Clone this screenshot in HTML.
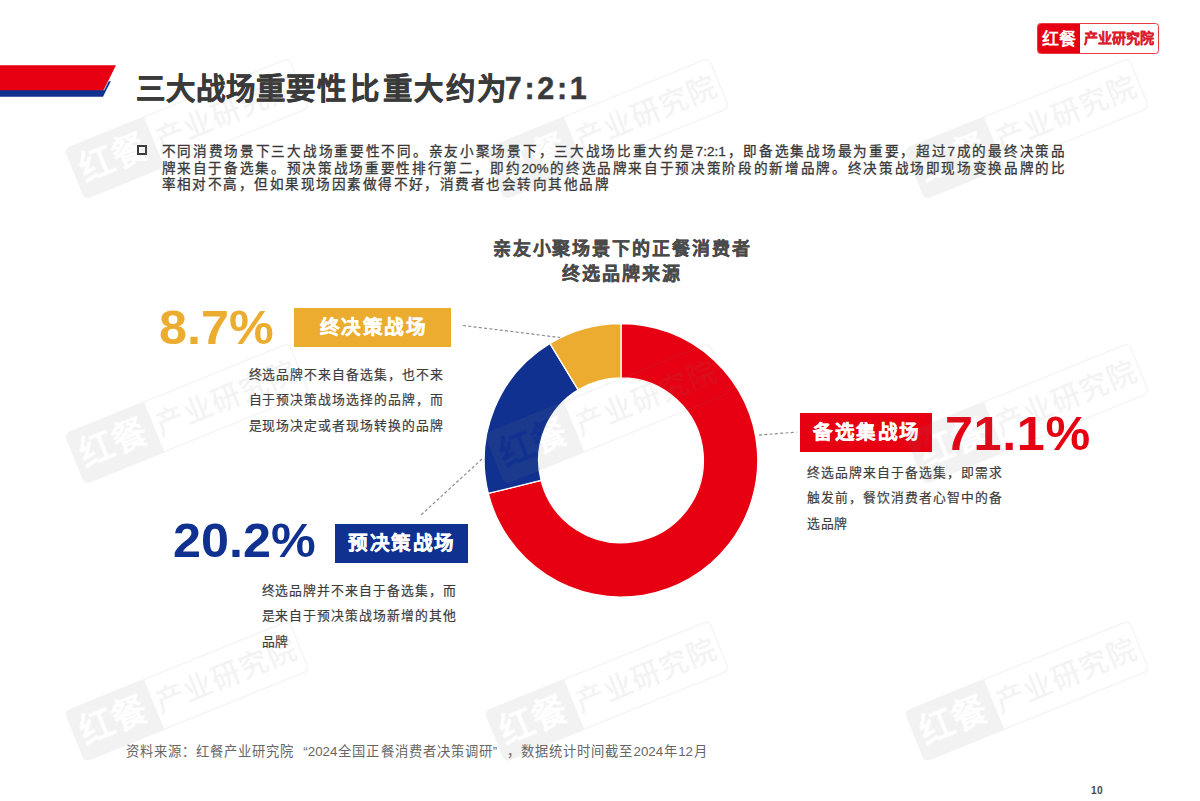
<!DOCTYPE html>
<html lang="zh-CN">
<head>
<meta charset="utf-8">
<title>三大战场重要性比重大约为7:2:1</title>
<style>
*{margin:0;padding:0;box-sizing:border-box;}
html,body{width:1200px;height:801px;background:#fff;overflow:hidden;}
body{position:relative;font-family:"Liberation Sans",sans-serif;color:#3d3d3d;}
.abs{position:absolute;white-space:nowrap;}
#hdr{position:absolute;left:0;top:0;}
#title{left:136px;top:66px;font-size:29.4px;line-height:44px;font-weight:bold;color:#3a3a3a;letter-spacing:1.1px;-webkit-text-stroke:0.45px #3a3a3a;}
#title .n{font-size:30.5px;letter-spacing:2.7px;margin-left:-3px;}
#bullet{left:136.7px;top:145.4px;width:10px;height:10px;border:2px solid #3a3a3a;}
.body{left:161.5px;width:903.5px;font-size:13.6px;line-height:17px;color:#383838;white-space:nowrap;-webkit-text-stroke:0.3px #383838;}
.just{text-align:justify;text-align-last:justify;}
#ctitle{left:422.3px;width:400px;top:237.2px;text-align:center;font-size:18px;line-height:25px;font-weight:bold;color:#4a4a4a;letter-spacing:1.95px;-webkit-text-stroke:0.3px #4a4a4a;}
.pct{font-weight:bold;font-size:48px;line-height:48px;transform-origin:0 0;transform:scaleX(1.048);}
.tag{color:#fff;font-weight:bold;font-size:19.5px;text-align:center;height:39px;line-height:38px;letter-spacing:1.5px;text-indent:1.5px;-webkit-text-stroke:0.35px #fff;}
.desc{font-size:12.8px;line-height:25.5px;color:#3c3c3c;width:194.5px;white-space:nowrap;-webkit-text-stroke:0.2px #3c3c3c;}
.desc div{text-align:justify;text-align-last:justify;}
.desc div.l{text-align-last:left;letter-spacing:0.7px;}
#foot{left:126px;top:744.3px;width:581px;font-size:13.3px;line-height:16px;color:#666;text-align:justify;text-align-last:justify;}
#foot i{font-style:normal;display:inline-block;width:1em;}
#pg{left:1091px;top:785.6px;font-size:10.2px;line-height:10px;color:#4a4a4a;font-weight:bold;letter-spacing:0.3px;}
#logo{left:1037px;top:23px;width:122px;height:31px;border:1px solid #e73a45;border-radius:3.5px;overflow:hidden;background:#fff;}
#logo .a{position:absolute;left:-1px;top:-1px;width:43px;height:31px;background:#e60012;color:#fff;font-weight:bold;font-size:17px;line-height:33.6px;text-align:center;}
#logo .b{position:absolute;left:43.5px;top:-1px;width:75px;height:31px;color:#dc1c2c;font-weight:bold;font-size:14px;line-height:31.4px;text-align:center;letter-spacing:0.2px;-webkit-text-stroke:0.3px #dc1c2c;}
</style>
</head>
<body>
<svg id="hdr" width="1200" height="801" viewBox="0 0 1200 801">
  <polygon points="0,81.2 110.8,81.2 103,96.7 0,96.7" fill="#10318f"/>
  <polygon points="0,65.3 116,65.3 103.6,90.2 0,90.2" fill="#e60012"/>
  <line x1="108.5" y1="81" x2="103.8" y2="90.4" stroke="#fff" stroke-width="0.7"/>
</svg>
<div class="abs" id="title">三大战场重要性<span style="margin-left:3.5px">比</span><span style="margin-left:3px;letter-spacing:2.1px">重大约为</span><span class="n">7:2:1</span></div>

<div class="abs" id="bullet"></div>
<div class="abs body just" style="top:142.6px;">不同消费场景下三大战场重要性不同。亲友小聚场景下，三大战场比重大约是7:2:1，即备选集战场最为重要，超过7成的最终决策品</div>
<div class="abs body just" style="top:159.7px;">牌来自于备选集。预决策战场重要性排行第二，即约20%的终选品牌来自于预决策阶段的新增品牌。终决策战场即现场变换品牌的比</div>
<div class="abs body" style="top:176.1px;letter-spacing:1.47px;">率相对不高，但如果现场因素做得不好，消费者也会转向其他品牌</div>

<div class="abs" id="ctitle">亲友小聚场景下的正餐消费者<br>终选品牌来源</div>

<!-- donut chart -->
<svg class="abs" id="donut" style="left:0;top:0;" width="1200" height="801" viewBox="0 0 1200 801">
  <g id="segs" stroke="#fff" stroke-width="1.3" stroke-linejoin="round">
    <path d="M621.00,323.50A136.8,136.8 0 1 1 488.29,493.49L541.06,480.29A82.4,82.4 0 1 0 621.00,377.90Z" fill="#e60012"/>
    <path d="M488.29,493.49A136.8,136.8 0 0 1 549.89,343.43L578.17,389.91A82.4,82.4 0 0 0 541.06,480.29Z" fill="#10318f"/>
    <path d="M549.89,343.43A136.8,136.8 0 0 1 621.00,323.50L621.00,377.90A82.4,82.4 0 0 0 578.17,389.91Z" fill="#ecac30"/>
  </g>
  <g fill="none" stroke="#8c8c8c" stroke-width="1.2" stroke-dasharray="3 2.3">
    <line x1="463" y1="325.5" x2="560" y2="337.5"/>
    <line x1="482" y1="459" x2="421" y2="515"/>
    <line x1="759" y1="435.1" x2="796.5" y2="432.1"/>
  </g>
</svg>

<!-- yellow: final decision -->
<div class="abs pct" style="left:159px;top:304.3px;color:#ecac30;">8.7%</div>
<div class="abs tag" style="left:294px;top:307.5px;width:157px;background:#ecac30;">终决策战场</div>
<div class="abs desc" style="left:248.5px;top:361.5px;">
  <div>终选品牌不来自备选集，也不来</div>
  <div>自于预决策战场选择的品牌，而</div>
  <div>是现场决定或者现场转换的品牌</div>
</div>

<!-- blue: pre decision -->
<div class="abs pct" style="left:173px;top:517.4px;color:#10318f;">20.2%</div>
<div class="abs tag" style="left:334.5px;top:524px;width:133.5px;background:#10318f;">预决策战场</div>
<div class="abs desc" style="left:261.5px;top:577.5px;">
  <div>终选品牌并不来自于备选集，而</div>
  <div>是来自于预决策战场新增的其他</div>
  <div class="l">品牌</div>
</div>

<!-- red: consideration set -->
<div class="abs tag" style="left:800px;top:413px;width:132px;background:#e60012;">备选集战场</div>
<div class="abs pct" style="left:944.5px;top:409.5px;color:#e60012;letter-spacing:0.6px;">71.1%</div>
<div class="abs desc" style="left:807px;top:459.5px;">
  <div>终选品牌来自于备选集，即需求</div>
  <div>触发前，餐饮消费者心智中的备</div>
  <div class="l">选品牌</div>
</div>

<div class="abs" id="foot">资料来源：红餐产业研究院<i style="text-align:right;text-align-last:right">“</i>2024全国正餐消费者决策调研<i style="text-align:left;text-align-last:left">”</i>，数据统计时间截至2024年12月</div>
<div class="abs" id="pg">10</div>

<div class="abs" id="logo"><div class="a">红餐</div><div class="b">产业研究院</div></div>

<!-- watermarks -->
<svg class="abs" id="wms" style="left:0;top:0;pointer-events:none;" width="1200" height="801" viewBox="0 0 1200 801">
  <defs>
    <mask id="wmask" maskUnits="userSpaceOnUse" x="0" y="0" width="243" height="55">
      <rect x="0" y="0" width="243" height="55" fill="#fff"/>
      <text x="41.5" y="39" text-anchor="middle" font-family="'Liberation Sans', sans-serif" font-weight="bold" font-size="35" fill="#000">红餐</text>
    </mask>
    <g id="wmk">
      <path d="M6,0H86V55H6A6,6 0 0 1 0,49V6A6,6 0 0 1 6,0Z" fill="#7d7d7d" mask="url(#wmask)"/>
      <rect x="0.6" y="0.6" width="241.8" height="53.8" rx="5.6" ry="5.6" fill="none" stroke="#858585" stroke-width="1.2"/>
      <text x="164" y="37.6" text-anchor="middle" font-family="'Liberation Sans', sans-serif" font-size="28.5" letter-spacing="1" fill="#858585" stroke="#858585" stroke-width="0.5">产业研究院</text>
    </g>
  </defs>
  <g opacity="0.105">
  <use href="#wmk" transform="translate(187 128.5) rotate(-22.1) translate(-121.5 -27.5)"/>
  <use href="#wmk" transform="translate(607 128.5) rotate(-22.1) translate(-121.5 -27.5)"/>
  <use href="#wmk" transform="translate(1027 128.5) rotate(-22.1) translate(-121.5 -27.5)"/>
  <use href="#wmk" transform="translate(187 413.5) rotate(-22.1) translate(-121.5 -27.5)"/>
  <use href="#wmk" transform="translate(607 413.5) rotate(-22.1) translate(-121.5 -27.5)"/>
  <use href="#wmk" transform="translate(1027 413.5) rotate(-22.1) translate(-121.5 -27.5)"/>
  <use href="#wmk" transform="translate(187 691) rotate(-22.1) translate(-121.5 -27.5)"/>
  <use href="#wmk" transform="translate(607 691) rotate(-22.1) translate(-121.5 -27.5)"/>
  <use href="#wmk" transform="translate(1027 691) rotate(-22.1) translate(-121.5 -27.5)"/>
  </g>
</svg>

</body>
</html>
